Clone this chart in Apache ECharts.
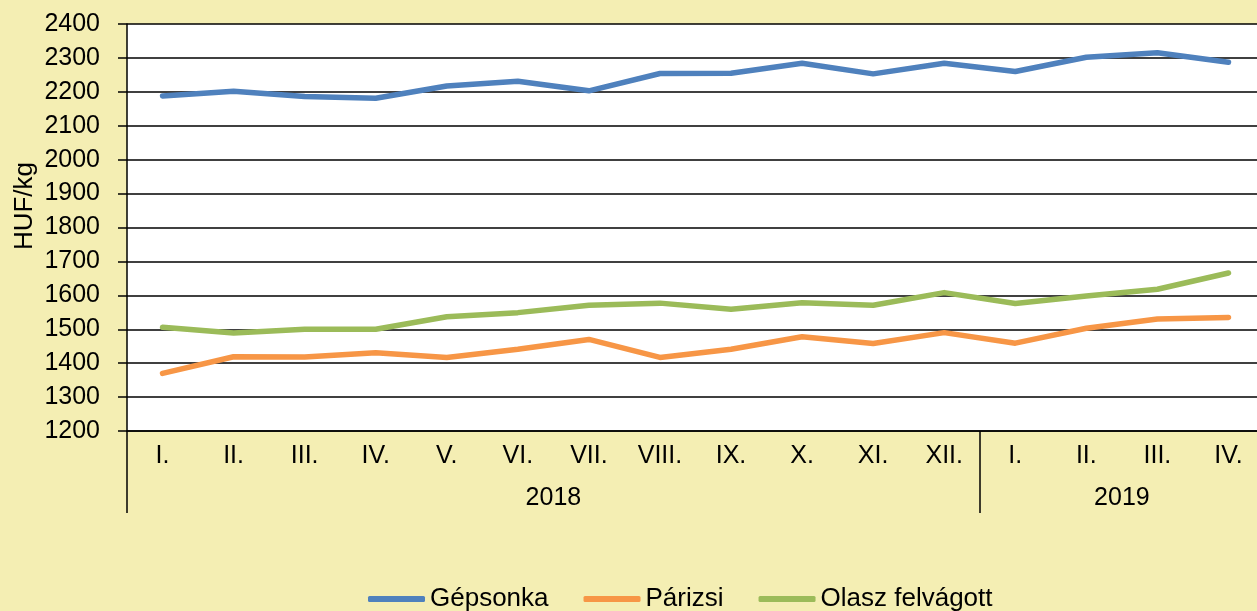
<!DOCTYPE html>
<html>
<head>
<meta charset="utf-8">
<script src="https://cdn.jsdelivr.net/npm/echarts@6/dist/echarts.min.js"></script>
<style>
  html, body { margin: 0; padding: 0; background: #F4EEB3; }
  #chart { width: 1257px; height: 611px; }
</style>
</head>
<body>
<div id="chart"></div>
<script>
// havi árak, HUF/kg
const months = ['I.', 'II.', 'III.', 'IV.', 'V.', 'VI.', 'VII.', 'VIII.', 'IX.', 'X.', 'XI.', 'XII.',
                'I.', 'II.', 'III.', 'IV.'];
const years = ['2018', '2019'];
const yearMonthCounts = [12, 4];

const gepsonka = [2188, 2202, 2186, 2181, 2217, 2231, 2203, 2254, 2255, 2284, 2253, 2284, 2260, 2302, 2315, 2287];
const parizsi = [1370, 1419, 1418, 1431, 1417, 1441, 1470, 1417, 1441, 1478, 1458, 1490, 1459, 1503, 1530, 1535];
const olasz = [1506, 1489, 1500, 1500, 1537, 1549, 1571, 1577, 1559, 1578, 1571, 1608, 1576, 1598, 1618, 1666];

const seriesNames = ['Gépsonka', 'Párizsi', 'Olasz felvágott'];
const seriesColors = ['#4F81BD', '#F79646', '#9BBB59'];

// year row: half-month slots so the year label sits in the middle of its group
const halfSlots = [];
for (let i = 0; i <= months.length * 2; i++) halfSlots.push('');
const groupStarts = [];
let start = 0;
years.forEach((y, k) => {
  groupStarts.push(start * 2);
  halfSlots[start * 2 + yearMonthCounts[k]] = y;
  start += yearMonthCounts[k];
});
groupStarts.push(start * 2);

const font = 'Liberation Sans, Arial, sans-serif';
const myChart = echarts.init(document.getElementById('chart'));

const option = {
  backgroundColor: '#F4EEB3',
  animation: false,
  grid: {
    left: 127, right: -7, top: 24, bottom: 180,
    outerBoundsMode: 'none',
    containLabel: false,
    show: true, backgroundColor: '#ffffff', borderWidth: 0
  },
  legend: {
    left: 363, top: 581,
    itemWidth: 57, itemHeight: 6, itemGap: 35,
    icon: 'roundRect',
    textStyle: { fontFamily: font, fontSize: 26, color: '#000' },
    data: seriesNames
  },
  graphic: [{
    type: 'text',
    left: 12, top: 162,
    rotation: Math.PI / 2,
    style: { text: 'HUF/kg', font: '26px ' + font, fill: '#000' }
  }],
  xAxis: [
    {
      type: 'category',
      data: months,
      boundaryGap: true,
      position: 'bottom',
      axisLine: { lineStyle: { color: '#000', width: 1.5 } },
      axisTick: { interval: 0, length: 40, lineStyle: { color: '#000', width: 1.5 } },
      axisLabel: { interval: 0, margin: 13, fontFamily: font, fontSize: 25, color: '#000' },
      splitLine: { show: false }
    },
    {
      type: 'category',
      data: halfSlots,
      boundaryGap: false,
      position: 'bottom',
      axisLine: { show: false },
      axisTick: {
        interval: (idx) => groupStarts.indexOf(idx) >= 0,
        length: 82,
        lineStyle: { color: '#000', width: 1.5 }
      },
      axisLabel: { interval: 0, margin: 55, fontFamily: font, fontSize: 25, color: '#000' },
      splitLine: { show: false }
    }
  ],
  yAxis: {
    type: 'value',
    min: 1200, max: 2400, interval: 100,
    axisLine: { show: true, lineStyle: { color: '#000', width: 1.5 } },
    axisTick: { show: true, length: 9, lineStyle: { color: '#000', width: 1.5 } },
    axisLabel: {
      margin: 27, fontFamily: font, fontSize: 25, color: '#000',
      formatter: (v) => String(v)
    },
    splitLine: { lineStyle: { color: '#000', width: 1.5 } }
  },
  series: [gepsonka, parizsi, olasz].map((d, i) => ({
    name: seriesNames[i],
    type: 'line',
    data: d,
    xAxisIndex: 0,
    symbol: 'none',
    color: seriesColors[i],
    lineStyle: { width: 5.5, cap: 'round', join: 'round' }
  }))
};
myChart.setOption(option);
</script>
</body>
</html>
